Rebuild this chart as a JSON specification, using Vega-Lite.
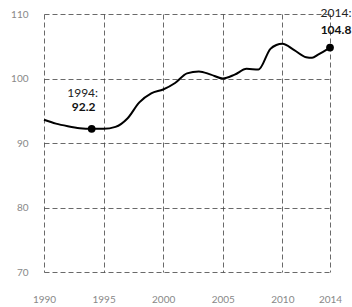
{
  "$schema": "https://vega.github.io/schema/vega-lite/v6.json",
  "width": 286,
  "height": 258,
  "autosize": {"type": "none"},
  "padding": {"left": 44, "top": 14, "right": 22, "bottom": 35},
  "background": "white",
  "config": {
    "view": {"stroke": null},
    "font": "Lato",
    "axis": {
      "domain": false,
      "ticks": false,
      "grid": true,
      "gridColor": "#444",
      "gridDash": [5, 3],
      "gridWidth": 1,
      "gridOpacity": 0.8,
      "labelColor": "#888",
      "labelFontSize": 10,
      "title": null
    }
  },
  "datasets": {
    "series": [
      {"year": 1990, "value": 93.6},
      {"year": 1991, "value": 93.0},
      {"year": 1992, "value": 92.6},
      {"year": 1993, "value": 92.3},
      {"year": 1994, "value": 92.2},
      {"year": 1995, "value": 92.2},
      {"year": 1996, "value": 92.5},
      {"year": 1997, "value": 93.8},
      {"year": 1998, "value": 96.3},
      {"year": 1999, "value": 97.7},
      {"year": 2000, "value": 98.3},
      {"year": 2001, "value": 99.3},
      {"year": 2002, "value": 100.8},
      {"year": 2003, "value": 101.1},
      {"year": 2004, "value": 100.6},
      {"year": 2005, "value": 100.0},
      {"year": 2006, "value": 100.6},
      {"year": 2007, "value": 101.5},
      {"year": 2008, "value": 101.4},
      {"year": 2009, "value": 104.6},
      {"year": 2009.5, "value": 105.2},
      {"year": 2010, "value": 105.4},
      {"year": 2011, "value": 104.4},
      {"year": 2012, "value": 103.3},
      {"year": 2012.5, "value": 103.2},
      {"year": 2013, "value": 103.7},
      {"year": 2014, "value": 104.8}
    ],
    "marks": [
      {"year": 1994, "value": 92.2, "label": "1994:", "num": "92.2"},
      {"year": 2014, "value": 104.8, "label": "2014:", "num": "104.8"}
    ]
  },
  "encoding": {
    "x": {
      "field": "year",
      "type": "quantitative",
      "scale": {"domain": [1990, 2014], "nice": false, "zero": false},
      "axis": {"values": [1990, 1995, 2000, 2005, 2010, 2014], "format": "d", "labelPadding": 22, "labelFlush": false}
    },
    "y": {
      "field": "value",
      "type": "quantitative",
      "scale": {"domain": [70, 110], "nice": false, "zero": false},
      "axis": {"values": [70, 80, 90, 100, 110], "labelPadding": 16}
    }
  },
  "layer": [
    {
      "data": {"name": "series"},
      "mark": {"type": "line", "color": "black", "strokeWidth": 2, "interpolate": "monotone"}
    },
    {
      "data": {"name": "marks"},
      "mark": {"type": "point", "filled": true, "color": "black", "size": 60, "opacity": 1}
    },
    {
      "data": {"name": "marks"},
      "transform": [{"filter": "datum.year == 1994"}],
      "mark": {"type": "text", "dx": -9, "dy": -36, "fontSize": 12, "color": "#222"},
      "encoding": {"text": {"field": "label"}}
    },
    {
      "data": {"name": "marks"},
      "transform": [{"filter": "datum.year == 1994"}],
      "mark": {"type": "text", "dx": -8, "dy": -22, "fontSize": 12, "fontWeight": "bold", "color": "#111"},
      "encoding": {"text": {"field": "num"}}
    },
    {
      "data": {"name": "marks"},
      "transform": [{"filter": "datum.year == 2014"}],
      "mark": {"type": "text", "dx": 6, "dy": -35, "fontSize": 12, "color": "#222"},
      "encoding": {"text": {"field": "label"}}
    },
    {
      "data": {"name": "marks"},
      "transform": [{"filter": "datum.year == 2014"}],
      "mark": {"type": "text", "dx": 6, "dy": -18, "fontSize": 12, "fontWeight": "bold", "color": "#111"},
      "encoding": {"text": {"field": "num"}}
    }
  ]
}
